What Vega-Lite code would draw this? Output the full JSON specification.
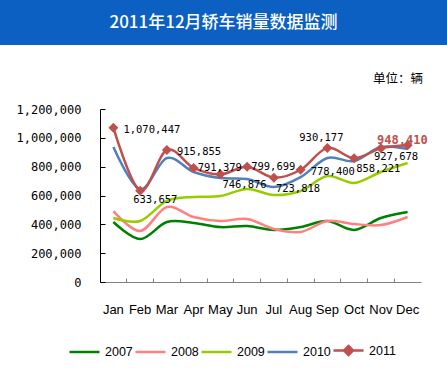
{
  "$schema": "https://vega.github.io/schema/vega-lite/v6.json",
  "padding": 0,
  "background": "white",
  "spacing": 27,
  "bounds": "full",
  "config": {"view": {"stroke": null}},
  "datasets": {
    "sales": [
      {"month": "Jan", "year": "2007", "sales": 416000}, {"month": "Feb", "year": "2007", "sales": 298000}, {"month": "Mar", "year": "2007", "sales": 416000}, {"month": "Apr", "year": "2007", "sales": 409000}, {"month": "May", "year": "2007", "sales": 381000}, {"month": "Jun", "year": "2007", "sales": 388000}, {"month": "Jul", "year": "2007", "sales": 361000}, {"month": "Aug", "year": "2007", "sales": 381000}, {"month": "Sep", "year": "2007", "sales": 423000}, {"month": "Oct", "year": "2007", "sales": 361000}, {"month": "Nov", "year": "2007", "sales": 444000}, {"month": "Dec", "year": "2007", "sales": 486000},
      {"month": "Jan", "year": "2008", "sales": 492000}, {"month": "Feb", "year": "2008", "sales": 354000}, {"month": "Mar", "year": "2008", "sales": 520000}, {"month": "Apr", "year": "2008", "sales": 451000}, {"month": "May", "year": "2008", "sales": 423000}, {"month": "Jun", "year": "2008", "sales": 437000}, {"month": "Jul", "year": "2008", "sales": 368000}, {"month": "Aug", "year": "2008", "sales": 347000}, {"month": "Sep", "year": "2008", "sales": 423000}, {"month": "Oct", "year": "2008", "sales": 402000}, {"month": "Nov", "year": "2008", "sales": 395000}, {"month": "Dec", "year": "2008", "sales": 451000},
      {"month": "Jan", "year": "2009", "sales": 444000}, {"month": "Feb", "year": "2009", "sales": 423000}, {"month": "Mar", "year": "2009", "sales": 562000}, {"month": "Apr", "year": "2009", "sales": 590000}, {"month": "May", "year": "2009", "sales": 596000}, {"month": "Jun", "year": "2009", "sales": 645000}, {"month": "Jul", "year": "2009", "sales": 603000}, {"month": "Aug", "year": "2009", "sales": 631000}, {"month": "Sep", "year": "2009", "sales": 735000}, {"month": "Oct", "year": "2009", "sales": 687000}, {"month": "Nov", "year": "2009", "sales": 763000}, {"month": "Dec", "year": "2009", "sales": 825000},
      {"month": "Jan", "year": "2010", "sales": 936000}, {"month": "Feb", "year": "2010", "sales": 645000}, {"month": "Mar", "year": "2010", "sales": 860000}, {"month": "Apr", "year": "2010", "sales": 763000}, {"month": "May", "year": "2010", "sales": 721000}, {"month": "Jun", "year": "2010", "sales": 714000}, {"month": "Jul", "year": "2010", "sales": 659000}, {"month": "Aug", "year": "2010", "sales": 728000}, {"month": "Sep", "year": "2010", "sales": 860000}, {"month": "Oct", "year": "2010", "sales": 839000}, {"month": "Nov", "year": "2010", "sales": 936000}, {"month": "Dec", "year": "2010", "sales": 922000},
      {"month": "Jan", "year": "2011", "sales": 1070447}, {"month": "Feb", "year": "2011", "sales": 633657}, {"month": "Mar", "year": "2011", "sales": 915855}, {"month": "Apr", "year": "2011", "sales": 791379}, {"month": "May", "year": "2011", "sales": 746876}, {"month": "Jun", "year": "2011", "sales": 799699}, {"month": "Jul", "year": "2011", "sales": 723818}, {"month": "Aug", "year": "2011", "sales": 778400}, {"month": "Sep", "year": "2011", "sales": 930177}, {"month": "Oct", "year": "2011", "sales": 858221}, {"month": "Nov", "year": "2011", "sales": 927678}, {"month": "Dec", "year": "2011", "sales": 948410}
    ]
  },
  "vconcat": [
    {
      "width": 447,
      "height": 45,
      "view": {"fill": "#0B60C1", "stroke": null},
      "data": {"values": [{"title": "2011年12月轿车销量数据监测"}]},
      "mark": {"type": "text", "color": "white", "font": "Noto Sans CJK SC", "fontSize": 17, "fontWeight": 500, "baseline": "middle", "align": "center"},
      "encoding": {"text": {"field": "title"}}
    },
    {
      "spacing": 0,
      "hconcat": [
        {
          "width": 1,
          "height": 1,
          "data": {"values": [{}]},
          "mark": {"type": "point", "size": 0, "opacity": 0, "strokeWidth": 0}
        },
        {
          "width": 321,
          "height": 173,
          "title": {"text": "单位：辆", "anchor": "end", "frame": "group", "font": "Noto Sans CJK SC", "fontSize": 12.5, "fontWeight": "normal", "color": "black", "offset": 18, "dx": 2},
          "data": {"name": "sales"},
          "encoding": {
            "x": {
              "field": "month", "type": "ordinal",
              "sort": ["Jan", "Feb", "Mar", "Apr", "May", "Jun", "Jul", "Aug", "Sep", "Oct", "Nov", "Dec"],
              "scale": {"type": "band", "paddingInner": 0, "paddingOuter": 0},
              "bandPosition": 0.5,
              "axis": {"title": null, "bandPosition": 0, "labelOffset": 0, "domainColor": "#808080", "tickColor": "#808080", "tickSize": -4, "labelPadding": 25, "labelFont": "Liberation Sans", "labelFontSize": 13, "labelColor": "black", "labelAngle": 0, "grid": false}
            },
            "y": {
              "field": "sales", "type": "quantitative",
              "scale": {"domain": [0, 1200000], "nice": false},
              "axis": {"title": null, "values": [0, 200000, 400000, 600000, 800000, 1000000, 1200000], "format": ",d", "domainColor": "black", "tickColor": "black", "tickSize": -5, "labelPadding": 24, "labelFont": "DejaVu Sans Mono", "labelFontSize": 12, "labelColor": "black", "grid": false, "minExtent": 99, "maxExtent": 99}
            }
          },
          "layer": [
            {
              "mark": {"type": "line", "interpolate": "cardinal", "strokeWidth": 2.5},
              "encoding": {
                "color": {
                  "field": "year", "type": "nominal",
                  "scale": {"domain": ["2007", "2008", "2009", "2010", "2011"], "range": ["#008000", "#FF8080", "#99CC00", "#4F81BD", "#C0504D"]},
                  "legend": {
                    "title": null, "orient": "none", "legendX": 68, "legendY": 334, "direction": "horizontal", "columns": 5, "padding": 0,
                    "symbolSize": 900, "symbolStrokeWidth": 2.5, "labelFont": "Liberation Sans", "labelFontSize": 12.5, "labelColor": "black", "labelOffset": 4, "columnPadding": -3,
                    "encode": {"symbols": {"update": {
                      "shape": {"signal": "datum.value == '2011' ? 'M-1,0L1,0M0,-0.3L0.3,0L0,0.3L-0.3,0Z' : 'M-1,0L1,0'"},
                      "fill": {"signal": "datum.value == '2011' ? '#C0504D' : 'transparent'"}
                    }}}
                  }
                }
              }
            },
            {
              "transform": [{"filter": "datum.year == '2011'"}],
              "mark": {"type": "point", "shape": "diamond", "filled": true, "color": "#C0504D", "size": 100, "opacity": 1}
            },
            {
              "transform": [{"filter": "datum.year == '2011'"}, {"filter": {"field": "month", "oneOf": ["Jan", "Mar", "Aug"]}}],
              "mark": {"type": "text", "align": "left", "baseline": "middle", "dx": 10, "dy": 2, "font": "DejaVu Sans Mono", "fontSize": 10.5, "color": "black"},
              "encoding": {"text": {"field": "sales", "type": "quantitative", "format": ",d"}}
            },
            {
              "transform": [{"filter": "datum.year == '2011'"}, {"filter": {"field": "month", "oneOf": ["Apr", "Jun"]}}],
              "mark": {"type": "text", "align": "left", "baseline": "middle", "dx": 4, "dy": 0, "font": "DejaVu Sans Mono", "fontSize": 10.5, "color": "black"},
              "encoding": {"text": {"field": "sales", "type": "quantitative", "format": ",d"}}
            },
            {
              "transform": [{"filter": "datum.year == '2011'"}, {"filter": {"field": "month", "oneOf": ["May", "Jul", "Oct"]}}],
              "mark": {"type": "text", "align": "left", "baseline": "middle", "dx": 2, "dy": 11, "font": "DejaVu Sans Mono", "fontSize": 10.5, "color": "black"},
              "encoding": {"text": {"field": "sales", "type": "quantitative", "format": ",d"}}
            },
            {
              "transform": [{"filter": "datum.year == '2011'"}, {"filter": {"field": "month", "oneOf": ["Feb", "Nov"]}}],
              "mark": {"type": "text", "align": "left", "baseline": "middle", "dx": -7, "dy": 9, "font": "DejaVu Sans Mono", "fontSize": 10.5, "color": "black"},
              "encoding": {"text": {"field": "sales", "type": "quantitative", "format": ",d"}}
            },
            {
              "transform": [{"filter": "datum.year == '2011'"}, {"filter": {"field": "month", "equal": "Sep"}}],
              "mark": {"type": "text", "align": "center", "baseline": "middle", "dx": -6, "dy": -10, "font": "DejaVu Sans Mono", "fontSize": 10.5, "color": "black"},
              "encoding": {"text": {"field": "sales", "type": "quantitative", "format": ",d"}}
            },
            {
              "transform": [{"filter": "datum.year == '2011'"}, {"filter": {"field": "month", "equal": "Dec"}}],
              "mark": {"type": "text", "align": "right", "baseline": "middle", "dx": 20, "dy": -5, "font": "DejaVu Sans Mono", "fontSize": 12, "fontWeight": "bold", "color": "#C0504D"},
              "encoding": {"text": {"field": "sales", "type": "quantitative", "format": ",d"}}
            }
          ]
        }
      ]
    }
  ]
}
